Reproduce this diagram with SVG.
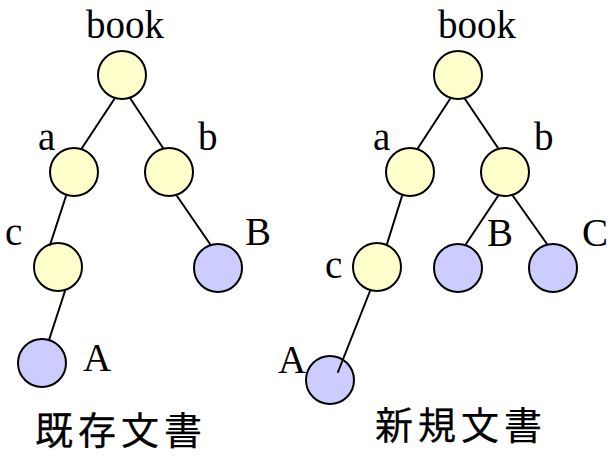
<svg xmlns="http://www.w3.org/2000/svg" width="610" height="456" viewBox="0 0 610 456">
  <style>
    .inner { fill: #FFFFCC; stroke: #000; stroke-width: 2; }
    .leaf { fill: #CCCCFF; stroke: #000; stroke-width: 2; }
    .edge { stroke: #000; stroke-width: 2; fill: none; stroke-linecap: round; }
    .lbl { font-family: "Liberation Serif", "Times New Roman", serif; font-size: 39px; fill: #000; }
    .cap { font-family: "Noto Sans CJK JP", "Noto Sans CJK SC", sans-serif; font-size: 38px; letter-spacing: 5px; fill: #000; stroke: #000; stroke-width: 0.25; }
  </style>

  <rect width="610" height="456" fill="#fff"/>

  <!-- existing document tree -->
  <g id="old-book"><circle class="inner" cx="122" cy="75" r="24"/><text class="lbl" x="86" y="38">book</text></g>
  <g id="old-a"><circle class="inner" cx="74" cy="172" r="24"/><text class="lbl" x="38" y="150">a</text></g>
  <g id="old-b"><circle class="inner" cx="169" cy="172" r="24"/><text class="lbl" x="198" y="150">b</text></g>
  <g id="old-c"><circle class="inner" cx="58" cy="267" r="24"/><text class="lbl" x="5" y="245">c</text></g>
  <g id="old-B"><circle class="leaf" cx="218" cy="268" r="24"/><text class="lbl" x="245" y="245">B</text></g>
  <g id="old-A"><circle class="leaf" cx="42" cy="363" r="24"/><text class="lbl" x="83" y="371">A</text></g>

  <!-- new document tree -->
  <g id="new-book"><circle class="inner" cx="458" cy="75" r="24"/><text class="lbl" x="438" y="38">book</text></g>
  <g id="new-a"><circle class="inner" cx="410" cy="172" r="24"/><text class="lbl" x="373" y="150">a</text></g>
  <g id="new-b"><circle class="inner" cx="505" cy="172" r="24"/><text class="lbl" x="534" y="150">b</text></g>
  <g id="new-c"><circle class="inner" cx="377" cy="267" r="24"/><text class="lbl" x="325" y="278">c</text></g>
  <g id="new-B"><circle class="leaf" cx="458" cy="268" r="24"/><text class="lbl" x="487" y="246">B</text></g>
  <g id="new-C"><circle class="leaf" cx="553" cy="268" r="24"/><text class="lbl" x="582" y="246">C</text></g>
  <g id="new-A"><circle class="leaf" cx="330" cy="380" r="24"/><text class="lbl" x="278" y="373">A</text></g>

  <!-- edges (drawn over the circles, ending at their rims) -->
  <g id="connectors">
    <line class="edge" x1="115" y1="98" x2="82" y2="148"/>
    <line class="edge" x1="130" y1="98" x2="163" y2="148"/>
    <line class="edge" x1="66" y1="196" x2="50" y2="245"/>
    <line class="edge" x1="177" y1="196" x2="210" y2="244"/>
    <line class="edge" x1="65" y1="291" x2="49" y2="340"/>

    <line class="edge" x1="450" y1="99" x2="418" y2="148"/>
    <line class="edge" x1="465" y1="99" x2="498" y2="148"/>
    <line class="edge" x1="402" y1="196" x2="387" y2="244"/>
    <line class="edge" x1="498" y1="196" x2="466" y2="244"/>
    <line class="edge" x1="513" y1="196" x2="547" y2="244"/>
    <line class="edge" x1="370" y1="291" x2="338" y2="372"/>
  </g>

  <!-- captions -->
  <g id="caption-old"><text class="cap" x="35" y="444">既存文書</text></g>
  <g id="caption-new"><text class="cap" x="375" y="439">新規文書</text></g>
</svg>
